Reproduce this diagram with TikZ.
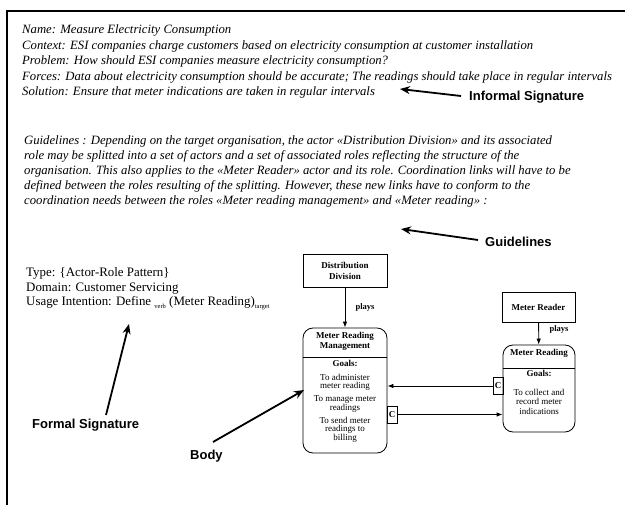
\documentclass[tikz,border=0pt]{standalone}
\usepackage{fontspec}
\setmainfont{Liberation Serif}
\newfontfamily\arialf{Liberation Sans}
\usetikzlibrary{arrows.meta}
\begin{document}
\begin{tikzpicture}[x=1pt,y=-1pt,
  itxt/.style={anchor=base west, inner sep=0pt, font=\fontsize{12.7}{15}\selectfont\itshape},
  ftxt/.style={anchor=base west, inner sep=0pt, font=\fontsize{12.9}{14}\selectfont},
  callout/.style={inner sep=0pt, anchor=west, font=\arialf\bfseries\fontsize{13}{14}\selectfont},
  calarrow/.style={line width=1.8pt, -{Stealth[length=10pt,width=8pt]}},
  actorbox/.style={draw, line width=0.8pt, inner sep=0pt, align=center, font=\bfseries\fontsize{9}{11}\selectfont},
  rolebox/.style={draw, line width=0.8pt, rounded corners=10pt, inner sep=0pt},
  rtitle/.style={inner sep=0pt, align=center, font=\bfseries\fontsize{9}{10}\selectfont},
  rtext/.style={inner sep=0pt, align=center, font=\fontsize{9}{8}\selectfont},
  cbox/.style={draw, line width=0.8pt, inner sep=0pt, minimum width=10pt, minimum height=17pt, font=\bfseries\fontsize{9}{9}\selectfont},
  plays/.style={inner sep=0pt, font=\bfseries\fontsize{8.5}{9}\selectfont},
  link/.style={line width=0.8pt, -{Latex[length=6pt,width=4.5pt]}}
]
\useasboundingbox (0,0) rectangle (625,505);
% frame
\draw[line width=1.5pt] (7,11) -- (625,11);
\draw[line width=2.4pt] (7,10.25) -- (7,505);

% informal signature
\node[itxt] (name) at (22,34) {Name: Measure Electricity Consumption};
\node[itxt] (ctx) at (22,49.5) {Context: ESI companies charge customers based on electricity consumption at customer installation};
\node[itxt] (prob) at (22,65) {Problem: How should ESI companies measure electricity consumption?};
\node[itxt] (forc) at (22,80.5) {Forces: Data about electricity consumption should be accurate; The readings should take place in regular intervals};
\node[itxt] (sol) at (22,96) {Solution: Ensure that meter indications are taken in regular intervals};

\node[callout] (isl) at (469,97) {Informal Signature};
\coordinate (istail) at (461,96);
\coordinate (istip) at (400,89);
\draw[calarrow] (istail) -- (istip);

% guidelines
\node[itxt] (g1) at (24,145) {Guidelines : Depending on the target organisation, the actor «Distribution Division» and its associated};
\node[itxt] (g2) at (24,160) {role may be splitted into a set of actors and a set of associated roles reflecting the structure of the};
\node[itxt] (g3) at (24,175) {organisation. This also applies to the «Meter Reader» actor and its role. Coordination links will have to be};
\node[itxt] (g4) at (24,190) {defined between the roles resulting of the splitting. However, these new links have to conform to the};
\node[itxt] (g5) at (24,205) {coordination needs between the roles «Meter reading management» and «Meter reading» :};

\node[callout] (gl) at (485,242) {Guidelines};
\coordinate (gtail) at (478,240);
\coordinate (gtip) at (401,229);
\draw[calarrow] (gtail) -- (gtip);

% formal signature
\node[ftxt] (ty) at (26,277) {Type: \{Actor-Role Pattern\}};
\node[ftxt] (dom) at (26,292) {Domain: Customer Servicing};
\node[ftxt] (use) at (26,306) {Usage Intention: Define \raisebox{-2.5pt}{\fontsize{6.5}{7}\selectfont verb} (Meter Reading)\raisebox{-2.5pt}{\fontsize{6.5}{7}\selectfont target}};

\node[callout] (fsl) at (32,425) {Formal Signature};
\coordinate (fstail) at (106,415);
\coordinate (fstip) at (129,324);
\draw[calarrow] (fstail) -- (fstip);

\node[callout] (bl) at (190,456) {Body};
\coordinate (btail) at (213,442);
\coordinate (btip) at (304,390);
\draw[calarrow] (btail) -- (btip);

% body diagram
\node[actorbox, minimum width=84pt, minimum height=33pt] (dd) at (345,270.5) {Distribution\\Division};
\node[rolebox, minimum width=84pt, minimum height=125pt] (mrm) at (345,390.5) {};
\draw[line width=0.8pt] (303,357) -- (387,357);
\node[rtitle] (mrmt) at (345,341.5) {Meter Reading\\Management};
\node[rtitle] (mrmg) at (345,363.5) {Goals:};
\node[rtext] (mrm1) at (345,382) {To administer\\meter reading};
\node[rtext] (mrm2) at (345,404) {To manage meter\\readings};
\node[rtext] (mrm3) at (345,429.5) {To send meter\\readings to\\billing};
\draw[link] (dd) -- (mrm);
\node[plays] (p1) at (365,307) {plays};

\node[actorbox, minimum width=73pt, minimum height=30pt] (mrd) at (538.5,307) {Meter Reader};
\node[rolebox, minimum width=72pt, minimum height=87pt] (mr) at (539,388.5) {};
\draw[line width=0.8pt] (503,368) -- (575,368);
\node[rtitle] (mrt) at (539,353) {Meter Reading};
\node[rtitle] (mrg) at (539,373) {Goals:};
\node[rtext, font=\fontsize{9}{9.5}\selectfont] (mr1) at (539,401.5) {To collect and\\record meter\\indications};
\draw[link] (mrd) -- (mr);
\node[plays] (p2) at (559,329) {plays};

\node[cbox] (c1) at (498,386) {C};
\node[cbox] (c2) at (392,414.5) {C};
\draw[link] (c1.west) -- (mrm.east |- c1.west);
\draw[link] (c2.east) -- (mr.west |- c2.east);
\end{tikzpicture}
\end{document}
